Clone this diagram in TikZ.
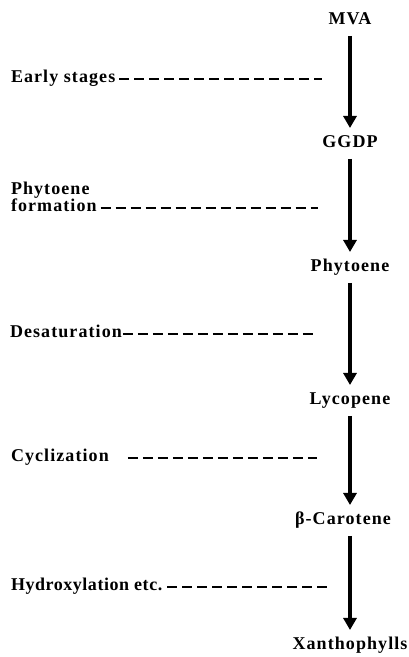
\documentclass[tikz,border=0pt]{standalone}
\usepackage{fontspec}
\setmainfont{Liberation Serif}[LetterSpace=6]
\usetikzlibrary{positioning, arrows.meta}
\tikzstyle{product} = [inner sep=0pt, 
outer sep=0pt, 
text height=12pt, 
text depth=4pt, 
font=\fontsize{18}{13}\selectfont\bfseries]
\tikzstyle{stage} = [inner sep=0pt, 
outer sep=0pt, 
anchor=base west, 
align=left, 
text height=12pt, 
text depth=4pt, 
font=\fontsize{18}{13}\selectfont\bfseries]
\tikzstyle{flow} = [-{Triangle[width=13pt,length=12pt]}, line width=3.5pt, shorten <=7pt, shorten >=8pt]
\tikzstyle{guide} = [dash pattern=on 10pt off 5pt, line width=1.3pt, shorten <=4pt]

\begin{document}
\begin{tikzpicture}[x=1pt, y=1pt, node distance=124pt]
\useasboundingbox (0,0) rectangle (408,657);

\node (mva) [product] at (350,636) {MVA};
\node (ggdp) [product, below of=mva, yshift=1pt] {GGDP};
\node (phytoene) [product, below of=ggdp] {Phytoene};
\node (lycopene) [product, below of=phytoene, yshift=-9pt] {Lycopene};
\node (carotene) [product, below of=lycopene, yshift=4pt, xshift=-7pt] {β-Carotene};
\node (xantho) [product, below of=carotene, yshift=-1pt, xshift=7pt] {Xanthophylls};

\draw[flow] (mva) -- (ggdp);
\draw[flow] (ggdp) -- (phytoene);
\draw[flow] (phytoene) -- (lycopene);
\draw[flow] (lycopene.south) -- (lycopene.south |- carotene.north);
\draw[flow] (carotene.south -| xantho) -- (xantho);

\node (early) [stage] at (11,574) {Early stages};
\node (formation) [stage, anchor=west] at (11,449) {Phytoene\\formation};
\node (desat) [stage] at (10,319) {Desaturation};
\node (cycl) [stage] at (11,195) {Cyclization};
\node (hydrox) [stage, font=\fontsize{18}{13}\selectfont\bfseries\addfontfeatures{LetterSpace=3}] at (11,66) {Hydroxylation etc.};

\coordinate (e1) at (322,578);
\coordinate (e2) at (318,449);
\coordinate (e3) at (317,322);
\coordinate (e4) at (317,200);
\coordinate (e5) at (327,70);

\draw[guide] (early.east) -- (early.east -| e1);
\draw[guide] (formation.east) -- (formation.east -| e2);
\draw[guide, shorten <=1pt] (desat.east) -- (desat.east -| e3);
\draw[guide, shorten <=19pt] (cycl.east) -- (cycl.east -| e4);
\draw[guide, shorten <=5pt] (hydrox.east) -- (hydrox.east -| e5);

\end{tikzpicture}
\end{document}
